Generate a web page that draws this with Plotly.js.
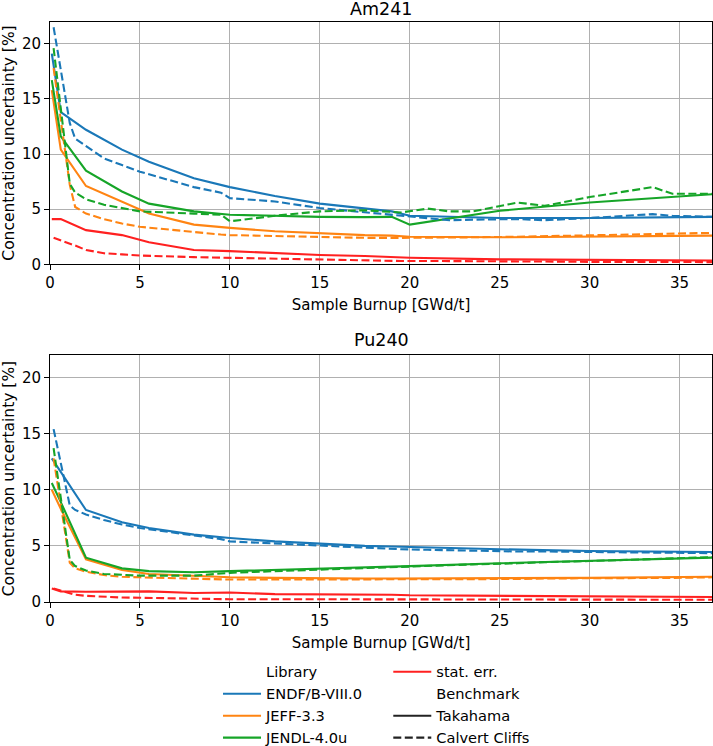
<!DOCTYPE html>
<html>
<head>
<meta charset="utf-8">
<script src="https://cdn.plot.ly/plotly-3.0.1.min.js"></script>
<style>
  body { margin: 0; background: #fff; }
  #chart { width: 713px; height: 746px; }
</style>
</head>
<body>
<div id="chart"></div>
<script>
// burnup points of the two benchmarks [GWd/t]
const burnupTakahama = [0.1, 0.6, 2, 4, 5.5, 8, 10, 12.5, 15, 17.5, 19, 20, 25, 30, 36.8]
const burnupCalvert = [0.2, 1.1, 1.4, 2, 3, 4, 5, 8, 9.5, 10, 12.5, 15, 17.5, 19.5, 21, 22.2, 23.5, 26, 27.5, 30, 33.5, 34.6, 36.8]

// Am241 concentration uncertainty [%]
const amEndfT = [19.1, 13.8, 12.2, 10.4, 9.3, 7.8, 7.0, 6.2, 5.5, 5.1, 4.8, 4.4, 4.2, 4.2, 4.3]
const amJeffT = [15.8, 10.4, 7.1, 5.7, 4.6, 3.6, 3.3, 3.0, 2.8, 2.65, 2.6, 2.5, 2.45, 2.5, 2.6]
const amJendlT = [16.7, 11.6, 8.5, 6.6, 5.5, 4.8, 4.5, 4.4, 4.3, 4.28, 4.3, 3.6, 4.85, 5.6, 6.35]
const amStatT = [4.1, 4.1, 3.1, 2.65, 2.0, 1.3, 1.2, 1.0, 0.85, 0.75, 0.65, 0.6, 0.45, 0.4, 0.35]
const amEndfC = [21.5, 12.8, 11.4, 10.7, 9.6, 9.0, 8.4, 7.0, 6.5, 6.0, 5.7, 5.1, 4.7, 4.4, 4.2, 4.0, 4.05, 4.1, 4.0, 4.2, 4.55, 4.4, 4.3]
const amJeffC = [17.8, 7.2, 5.2, 4.6, 4.1, 3.7, 3.4, 2.9, 2.7, 2.65, 2.55, 2.5, 2.4, 2.4, 2.4, 2.4, 2.45, 2.5, 2.55, 2.65, 2.75, 2.8, 2.85]
const amJendlC = [19.6, 7.3, 6.5, 5.9, 5.4, 5.1, 4.8, 4.6, 4.5, 3.9, 4.4, 4.8, 4.9, 4.7, 5.05, 4.8, 4.8, 5.6, 5.3, 6.1, 7.0, 6.4, 6.4]
const amStatC = [2.4, 1.9, 1.7, 1.3, 1.0, 0.9, 0.8, 0.65, 0.6, 0.6, 0.5, 0.45, 0.35, 0.3, 0.3, 0.28, 0.27, 0.25, 0.25, 0.22, 0.2, 0.2, 0.2]

// Pu240 concentration uncertainty [%]
const puEndfT = [12.8, 11.6, 8.2, 7.1, 6.6, 6.0, 5.7, 5.4, 5.2, 5.0, 4.95, 4.9, 4.7, 4.55, 4.45]
const puJeffT = [10.0, 8.3, 3.8, 2.85, 2.5, 2.3, 2.2, 2.15, 2.1, 2.1, 2.1, 2.1, 2.1, 2.15, 2.25]
const puJendlT = [10.6, 8.9, 3.95, 3.0, 2.75, 2.65, 2.75, 2.85, 3.0, 3.1, 3.15, 3.2, 3.45, 3.65, 3.95]
const puStatT = [1.2, 0.95, 0.92, 0.92, 0.95, 0.8, 0.85, 0.7, 0.7, 0.68, 0.65, 0.6, 0.55, 0.5, 0.45]
const puEndfC = [15.4, 8.6, 8.2, 7.8, 7.3, 6.9, 6.6, 5.9, 5.6, 5.4, 5.2, 5.0, 4.8, 4.7, 4.65, 4.6, 4.55, 4.5, 4.5, 4.45, 4.4, 4.4, 4.35]
const puJeffC = [12.8, 3.5, 3.0, 2.7, 2.4, 2.25, 2.2, 2.05, 2.0, 2.0, 2.0, 2.0, 2.0, 2.0, 2.0, 2.0, 2.05, 2.05, 2.1, 2.1, 2.15, 2.15, 2.2]
const puJendlC = [13.7, 3.75, 3.2, 2.8, 2.5, 2.4, 2.35, 2.35, 2.5, 2.6, 2.75, 2.9, 3.05, 3.15, 3.2, 3.3, 3.35, 3.45, 3.55, 3.65, 3.85, 3.9, 4.0]
const puStatC = [1.2, 0.75, 0.65, 0.55, 0.45, 0.4, 0.38, 0.3, 0.26, 0.25, 0.25, 0.24, 0.24, 0.22, 0.22, 0.22, 0.22, 0.21, 0.2, 0.2, 0.2, 0.2, 0.2]

const libraries = ["ENDF/B-VIII.0", "JEFF-3.3", "JENDL-4.0u"]
const benchmarks = ["Takahama", "Calvert Cliffs"]

const colors = {
    endf: "#1a78b8",
    jeff: "#ff8412",
    jendl: "#16a528",
    stat: "#ff2020"
}
const DASH = "8px,3.5px"
const FONT = "DejaVu Sans, sans-serif"

function curve(x, y, color, dashed, axis) {
    return {
        x: x,
        y: y,
        xaxis: "x" + axis,
        yaxis: "y" + axis,
        mode: "lines",
        type: "scatter",
        showlegend: false,
        hoverinfo: "skip",
        line: { color: color, width: 2.1, dash: dashed ? DASH : "solid" }
    }
}

// empty traces that only make the legend entries
function legendEntry(name, color, dash, legend) {
    return {
        x: [null],
        y: [null],
        mode: "lines",
        type: "scatter",
        name: name,
        legend: legend,
        hoverinfo: "skip",
        line: { color: color, width: 2.1, dash: dash }
    }
}

let data = [
    curve(burnupTakahama, amEndfT, colors.endf, false, ""),
    curve(burnupTakahama, amJeffT, colors.jeff, false, ""),
    curve(burnupTakahama, amJendlT, colors.jendl, false, ""),
    curve(burnupTakahama, amStatT, colors.stat, false, ""),
    curve(burnupCalvert, amEndfC, colors.endf, true, ""),
    curve(burnupCalvert, amJeffC, colors.jeff, true, ""),
    curve(burnupCalvert, amJendlC, colors.jendl, true, ""),
    curve(burnupCalvert, amStatC, colors.stat, true, ""),

    curve(burnupTakahama, puEndfT, colors.endf, false, "2"),
    curve(burnupTakahama, puJeffT, colors.jeff, false, "2"),
    curve(burnupTakahama, puJendlT, colors.jendl, false, "2"),
    curve(burnupTakahama, puStatT, colors.stat, false, "2"),
    curve(burnupCalvert, puEndfC, colors.endf, true, "2"),
    curve(burnupCalvert, puJeffC, colors.jeff, true, "2"),
    curve(burnupCalvert, puJendlC, colors.jendl, true, "2"),
    curve(burnupCalvert, puStatC, colors.stat, true, "2"),

    legendEntry("Library", "rgba(0,0,0,0)", "solid", "legend"),
    legendEntry(libraries[0], colors.endf, "solid", "legend"),
    legendEntry(libraries[1], colors.jeff, "solid", "legend"),
    legendEntry(libraries[2], colors.jendl, "solid", "legend"),
    legendEntry("stat. err.", colors.stat, "solid", "legend2"),
    legendEntry("Benchmark", "rgba(0,0,0,0)", "solid", "legend2"),
    legendEntry(benchmarks[0], "#222222", "solid", "legend2"),
    legendEntry(benchmarks[1], "#222222", DASH, "legend2")
]

function xAxis(anchor) {
    return {
        anchor: anchor,
        domain: [0, 1],
        range: [0, 36.8],
        tickvals: [0, 5, 10, 15, 20, 25, 30, 35],
        ticks: "outside",
        ticklen: 5,
        tickwidth: 1,
        tickcolor: "#000",
        showgrid: true,
        gridcolor: "#b0b0b0",
        gridwidth: 1,
        zeroline: false,
        showline: true,
        mirror: true,
        linecolor: "#000",
        linewidth: 1,
        automargin: false,
        tickfont: { size: 15, color: "#000" },
        title: { text: "Sample Burnup [GWd/t]", font: { size: 15, color: "#000" }, standoff: 8 }
    }
}

function yAxis(anchor, domain) {
    return {
        anchor: anchor,
        domain: domain,
        range: [0, 22],
        tickvals: [0, 5, 10, 15, 20],
        ticks: "outside",
        ticklen: 5,
        tickwidth: 1,
        tickcolor: "#000",
        showgrid: true,
        gridcolor: "#b0b0b0",
        gridwidth: 1,
        zeroline: false,
        showline: true,
        mirror: true,
        linecolor: "#000",
        linewidth: 1,
        automargin: false,
        tickfont: { size: 15, color: "#000" },
        title: { text: "Concentration uncertainty [%]", font: { size: 15.5, color: "#000" }, standoff: 4 }
    }
}

function legendBox(x) {
    return {
        xref: "paper",
        yref: "paper",
        x: x,
        y: 0.121,
        xanchor: "left",
        yanchor: "top",
        bgcolor: "rgba(0,0,0,0)",
        borderwidth: 0,
        itemwidth: 38,
        tracegroupgap: 0,
        font: { size: 14.6, color: "#000" }
    }
}

let layout = {
    width: 713,
    height: 746,
    margin: { l: 50, r: 1, t: 0, b: 0, autoexpand: false },
    paper_bgcolor: "#fff",
    plot_bgcolor: "#fff",
    font: { family: FONT, size: 15, color: "#000" },
    xaxis: xAxis("y"),
    yaxis: yAxis("x", [0.6457, 0.9709]),
    xaxis2: xAxis("y2"),
    yaxis2: yAxis("x2", [0.1930, 0.5241]),
    legend: legendBox(0.2538),
    legend2: legendBox(0.511),
    annotations: [
        { text: "Am241", xref: "paper", yref: "paper", x: 0.5, y: 0.98794,
          xanchor: "center", yanchor: "middle", showarrow: false, font: { size: 17.5 } },
        { text: "Pu240", xref: "paper", yref: "paper", x: 0.5, y: 0.5436,
          xanchor: "center", yanchor: "middle", showarrow: false, font: { size: 17.5 } }
    ]
}

Plotly.newPlot("chart", data, layout, { staticPlot: true })
</script>
</body>
</html>
